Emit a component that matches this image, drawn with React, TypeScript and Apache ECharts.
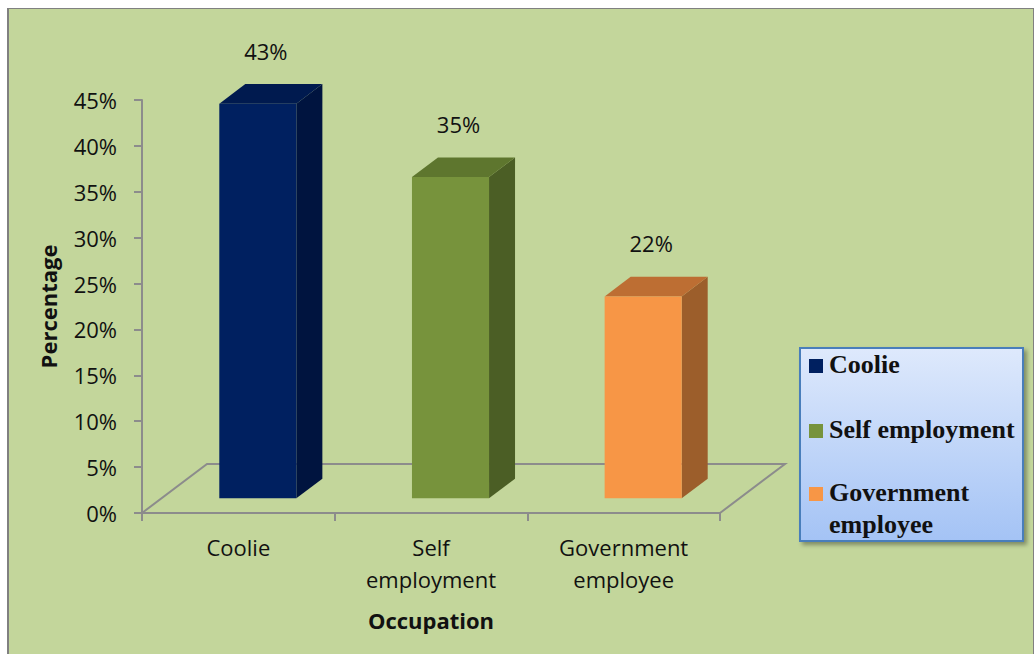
import React, { useEffect, useRef } from "react";
import * as echarts from "echarts";

// ---- data ----
const categories = ["Coolie", "Self employment", "Government employee"];
const values = [43, 35, 22];
const legendLabels = ["Coolie", "Self employment", "Government\nemployee"];
const yTickMax = 45;
const yTickStep = 5;

// ---- styles ----
const FRONT = ["#002060", "#77933C", "#F79646"];
const SIDE = ["#00143F", "#4B5E25", "#9C5E2B"];
const TOP = ["#001A4F", "#5E762E", "#BD6E33"];
const AXIS_GRAY = "#8C8C8C";
const FONT = "'Open Sans', sans-serif";
const DEPTH_X = 65;
const DEPTH_Y = 49;

export default function App() {
  const ref = useRef<HTMLDivElement>(null);

  useEffect(() => {
    if (!ref.current) return;
    const chart = echarts.init(ref.current, undefined, { renderer: "svg" });

    const barData = values.map((v, i) => [i, v]);

    const option: any = {
      animation: false,
      grid: { left: 142, top: 100, right: 314, bottom: 141 },
      xAxis: {
        type: "category",
        data: categories,
        axisLine: { show: true, lineStyle: { color: AXIS_GRAY, width: 2 } },
        axisTick: { show: true, length: 8, lineStyle: { color: AXIS_GRAY, width: 2 } },
        axisLabel: {
          margin: 18,
          fontFamily: FONT,
          fontSize: 22,
          lineHeight: 32,
          color: "#111",
          formatter: (s: string) => s.replace(" ", "\n"),
        },
        name: "Occupation",
        nameLocation: "middle",
        nameGap: 92,
        nameTextStyle: { fontFamily: FONT, fontSize: 22, fontWeight: "bold", color: "#111", lineHeight: 30 },
      },
      yAxis: {
        type: "value",
        min: 0,
        max: yTickMax,
        interval: yTickStep,
        splitLine: { show: false },
        axisLine: { show: true, lineStyle: { color: AXIS_GRAY, width: 2 } },
        axisTick: { show: true, length: 8, lineStyle: { color: AXIS_GRAY, width: 2 } },
        axisLabel: { margin: 25, fontFamily: FONT, fontSize: 22, color: "#111", formatter: "{value}%" },
        name: "Percentage",
        nameLocation: "middle",
        nameGap: 78,
        nameTextStyle: { fontFamily: FONT, fontSize: 22, fontWeight: "bold", color: "#111", lineHeight: 30 },
      },
      series: [
        {
          type: "custom",
          name: "floor",
          z: 1,
          silent: true,
          data: [[0, 0]],
          renderItem: (params: any, api: any) => {
            const cs = params.coordSys;
            const x = cs.x, y = cs.y, w = cs.width, h = cs.height;
            return {
              type: "polyline",
              shape: {
                points: [
                  [x, y + h],
                  [x + DEPTH_X, y + h - DEPTH_Y],
                  [x + w + DEPTH_X, y + h - DEPTH_Y],
                  [x + w, y + h],
                ],
              },
              style: { stroke: AXIS_GRAY, lineWidth: 2, fill: "none" },
            };
          },
        },
        {
          type: "custom",
          name: "Occupation",
          z: 3,
          data: barData,
          renderItem: (params: any, api: any) => {
            const idx = params.dataIndex;
            const cat = api.value(0);
            const v = api.value(1);
            const base = api.coord([cat, 0]);
            const topPt = api.coord([cat, v]);
            const band = api.size([1, 0])[0];
            const w = band * 0.4;
            const fx = DEPTH_X * 0.3, fy = DEPTH_Y * 0.3;
            const bdx = DEPTH_X * 0.4, bdy = DEPTH_Y * 0.4;
            const cx = base[0] + fx;
            const x0 = cx - w / 2, x1 = cx + w / 2;
            const yB = base[1] - fy;
            const yT = topPt[1] - fy;
            return {
              type: "group",
              children: [
                {
                  type: "polygon",
                  shape: { points: [[x1, yT], [x1 + bdx, yT - bdy], [x1 + bdx, yB - bdy], [x1, yB]] },
                  style: { fill: SIDE[idx] },
                },
                {
                  type: "polygon",
                  shape: { points: [[x0, yT], [x0 + bdx, yT - bdy], [x1 + bdx, yT - bdy], [x1, yT]] },
                  style: { fill: TOP[idx] },
                },
                {
                  type: "rect",
                  shape: { x: x0, y: yT, width: w, height: yB - yT },
                  style: { fill: FRONT[idx] },
                },
                {
                  type: "text",
                  style: {
                    x: cx + 8,
                    y: yT - 53,
                    text: v + "%",
                    align: "center",
                    verticalAlign: "middle",
                    font: "22px " + FONT,
                    fill: "#111",
                  },
                },
              ],
            };
          },
        },
      ],
      graphic: [
        {
          type: "group",
          left: 799,
          top: 347,
          children: [
            {
              type: "rect",
              shape: { x: 0, y: 0, width: 223, height: 193 },
              style: {
                fill: new echarts.graphic.LinearGradient(0, 0, 0, 1, [
                  { offset: 0, color: "#DEE9FC" },
                  { offset: 1, color: "#A4C3F5" },
                ]),
                stroke: "#4A7EBB",
                lineWidth: 2,
                shadowBlur: 4,
                shadowOffsetX: 3,
                shadowOffsetY: 3,
                shadowColor: "rgba(0,0,0,0.35)",
              },
            },
            ...legendLabels.flatMap((lab, i) => {
              const cy = [18, 83, 146][i];
              return [
                {
                  type: "rect",
                  shape: { x: 9, y: cy - 7, width: 14, height: 14 },
                  style: { fill: FRONT[i] },
                },
                {
                  type: "text",
                  style: {
                    x: 29,
                    y: cy - 18,
                    text: lab,
                    font: "bold 26px 'Liberation Serif', 'Times New Roman', serif",
                    lineHeight: 32,
                    verticalAlign: "top",
                    align: "left",
                    fill: "#111",
                  },
                },
              ];
            }),
          ],
        },
      ],
    };

    chart.setOption(option);
    return () => chart.dispose();
  }, []);

  return (
    <div style={{ position: "fixed", left: 0, top: 0, width: 1034, height: 654, background: "#fff", overflow: "hidden" }}>
      <div
        style={{
          position: "absolute",
          left: 7,
          top: 8,
          width: 1024,
          height: 700,
          background: "#C3D69B",
          borderLeft: "2px solid #808080",
          borderTop: "1px solid #808080",
          borderRight: "1px solid #808080",
        }}
      />
      <div ref={ref} style={{ position: "absolute", left: 0, top: 0, width: 1034, height: 654 }} />
    </div>
  );
}
